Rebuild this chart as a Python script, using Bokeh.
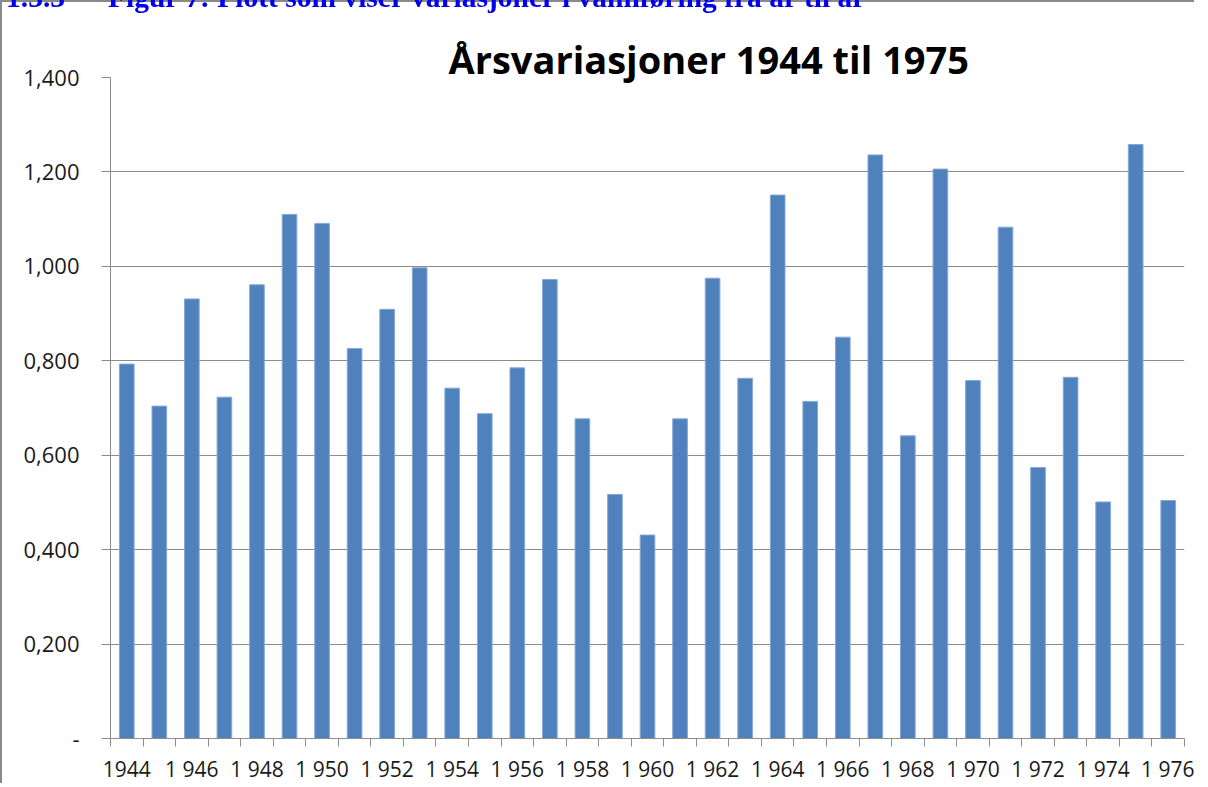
from bokeh.plotting import figure
from bokeh.models import Range1d, FixedTicker, Div
from bokeh.layouts import column
from bokeh.embed import file_html
from bokeh.resources import INLINE

# ---- data -------------------------------------------------------------
years = list(range(1944, 1977))
values = [0.793, 0.704, 0.931, 0.723, 0.961, 1.110, 1.091, 0.826, 0.909, 0.997,
          0.742, 0.688, 0.785, 0.972, 0.677, 0.517, 0.431, 0.677, 0.975, 0.763,
          1.151, 0.714, 0.850, 1.236, 0.641, 1.206, 0.758, 1.083, 0.574, 0.765,
          0.501, 1.258, 0.504]
x_tick_years = list(range(1944, 1977, 2))
x_tick_labels = ["1944", "1 946", "1 948", "1 950", "1 952", "1 954", "1 956",
                 "1 958", "1 960", "1 962", "1 964", "1 966", "1 968", "1 970",
                 "1 972", "1 974", "1 976"]
y_ticks = [0.0, 0.2, 0.4, 0.6, 0.8, 1.0, 1.2, 1.4]
y_tick_labels = ["-", "0,200", "0,400", "0,600", "0,800", "1,000", "1,200", "1,400"]

title_text = "Årsvariasjoner 1944 til 1975"
header_num = "1.3.3"
header_text = "Figur 7: Plott som viser variasjoner i vannføring fra år til år"

GREY = "#8c8c8c"
FONT = "Open Sans"

p = figure(width=1194, height=783,
           min_border_left=108, min_border_top=75, min_border_right=12, min_border_bottom=45,
           x_range=Range1d(years[0] - 0.5, years[-1] + 0.5),
           y_range=Range1d(0, 1.4),
           output_backend="svg", toolbar_location=None, tools="")

p.styles = {"border-top": "2px solid #8a8a8a", "border-left": "2px solid #8a8a8a"}
p.outline_line_color = None
p.background_fill_color = "white"
p.border_fill_color = "white"

p.vbar(x=years, top=values, width=0.45, bottom=0,
       fill_color="#4F81BD", line_color="#86A8D6", line_width=1)

p.title.text = title_text
p.title.text_font = FONT
p.title.text_font_style = "bold"
p.title.text_font_size = "38px"
p.title.text_color = "black"
p.title.align = "left"
p.title.offset = 338
p.title.standoff = -15

# x axis
xa = p.xaxis[0]
xa.ticker = FixedTicker(ticks=x_tick_years,
                        minor_ticks=[y - 0.5 for y in years] + [years[-1] + 0.5])
xa.major_label_overrides = {y: l for y, l in zip(x_tick_years, x_tick_labels)}
xa.major_tick_line_color = None
xa.major_tick_out = 8
xa.major_tick_in = 0
xa.minor_tick_out = 8
xa.minor_tick_in = 0
xa.minor_tick_line_color = GREY
xa.axis_line_color = GREY
xa.major_label_text_font = FONT
xa.major_label_text_font_size = "21px"
xa.major_label_text_color = "#1a1a1a"
xa.major_label_standoff = 8

# y axis
ya = p.yaxis[0]
ya.ticker = FixedTicker(ticks=y_ticks, minor_ticks=[])
ya.major_label_overrides = {t: l for t, l in zip(y_ticks, y_tick_labels)}
ya.major_tick_out = 9
ya.major_tick_in = 0
ya.major_tick_line_color = GREY
ya.axis_line_color = GREY
ya.major_label_text_font = FONT
ya.major_label_text_font_size = "22px"
ya.major_label_text_color = "#1a1a1a"
ya.major_label_standoff = 22

p.xgrid.grid_line_color = None
p.ygrid.grid_line_color = GREY
p.ygrid.ticker = FixedTicker(ticks=y_ticks[1:])

header = Div(
    text=(f'<span style="position:absolute;left:1px;top:0px">{header_num}</span>'
          f'<span style="position:absolute;left:103px;top:0px">{header_text}</span>'),
    width=1200, height=30,
    styles={"position": "fixed", "top": "-22px", "left": "0px",
            "font-family": "Liberation Serif", "font-weight": "bold",
            "font-size": "29.5px", "line-height": "28px", "color": "#0000ee",
            "white-space": "nowrap", "z-index": "10"})

layout = column(header, p)
open("out.html", "w").write(file_html(layout, INLINE))
